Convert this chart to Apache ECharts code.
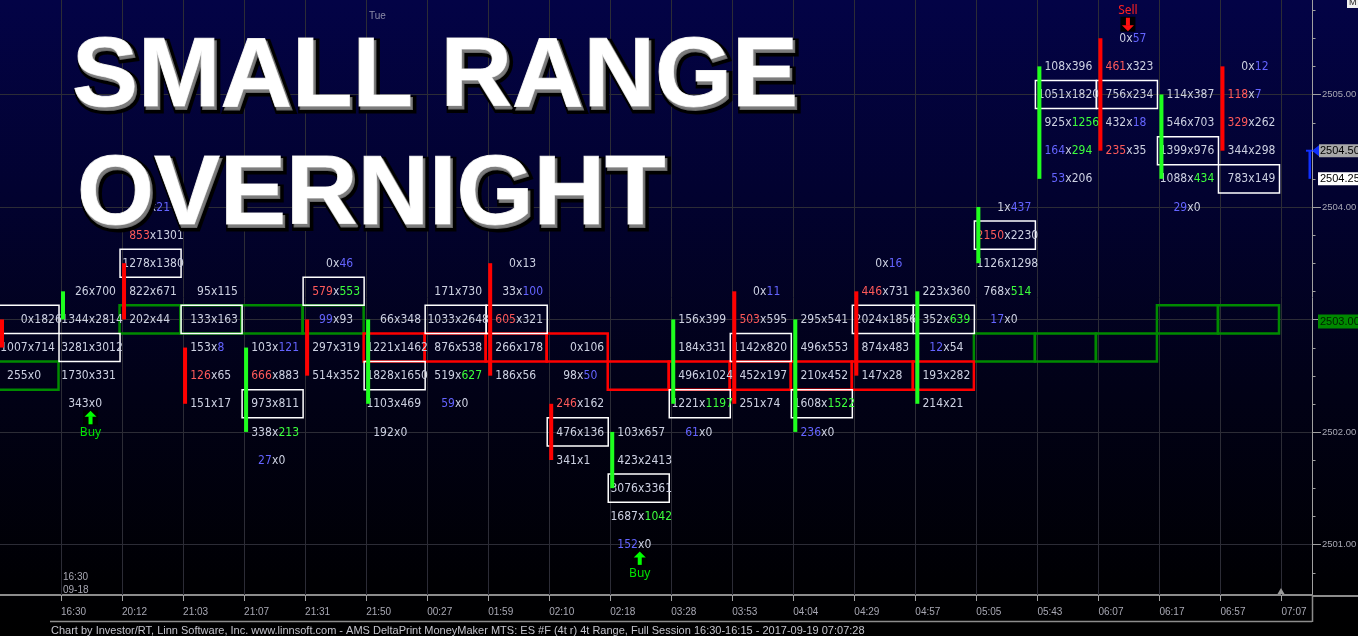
<!DOCTYPE html>
<html>
<head>
<meta charset="utf-8">
<script src="https://cdn.jsdelivr.net/npm/echarts@6/dist/echarts.min.js"></script>
<style>
html,body{margin:0;padding:0;background:#000;}
#c{width:1358px;height:636px;}
</style>
</head>
<body>
<div id="c"></div>
<script>
// ---------- DATA ----------
const timeLabels = ['16:30','20:12','21:03','21:07','21:31','21:50','00:27','01:59','02:10','02:18','03:28',
  '03:53','04:04','04:29','04:57','05:05','05:43','06:07','06:17','06:57','07:07'];

// highest price level of each column's footprint
const colTop = [2503.00, 2503.25, 2504.00, 2503.25, 2502.75, 2503.50, 2503.00, 2503.25, 2503.50, 2502.75, 2502.00,
  2503.00, 2503.25, 2503.00, 2503.50, 2503.25, 2504.00, 2505.25, 2505.50, 2505.00, 2505.25];

// bid x ask per price level, from top to bottom
const colCells = [
  ['0x1826','1007x714','255x0'],
  ['26x700','1344x2814','3281x3012','1730x331','343x0'],
  ['0x21','853x1301','1278x1380','822x671','202x44'],
  ['95x115','133x163','153x8','126x65','151x17'],
  ['103x121','666x883','973x811','338x213','27x0'],
  ['0x46','579x553','99x93','297x319','514x352'],
  ['66x348','1221x1462','1828x1650','1103x469','192x0'],
  ['171x730','1033x2648','876x538','519x627','59x0'],
  ['0x13','33x100','605x321','266x178','186x56'],
  ['0x106','98x50','246x162','476x136','341x1'],
  ['103x657','423x2413','3076x3361','1687x1042','152x0'],
  ['156x399','184x331','496x1024','1221x1197','61x0'],
  ['0x11','503x595','1142x820','452x197','251x74'],
  ['295x541','496x553','210x452','1608x1522','236x0'],
  ['0x16','446x731','2024x1856','874x483','147x28'],
  ['223x360','352x639','12x54','193x282','214x21'],
  ['1x437','2150x2230','1126x1298','768x514','17x0'],
  ['108x396','1051x1820','925x1256','164x294','53x206'],
  ['0x57','461x323','756x234','432x18','235x35'],
  ['114x387','546x703','1399x976','1088x434','29x0'],
  ['0x12','118x7','329x262','344x298','783x149']
];

// imbalance class of bid / ask: . normal, r seller, g buyer, b thin
const colFlags = [
  ['..','..','..'],
  ['..','..','..','..','..'],
  ['.b','r.','..','..','..'],
  ['..','..','.b','r.','..'],
  ['.b','r.','..','.g','b.'],
  ['.b','rg','b.','..','..'],
  ['..','..','..','..','..'],
  ['..','..','..','.g','b.'],
  ['..','.b','r.','..','..'],
  ['..','.b','r.','..','..'],
  ['..','..','..','.g','b.'],
  ['..','..','..','.g','b.'],
  ['.b','r.','..','..','..'],
  ['..','..','..','.g','b.'],
  ['.b','r.','..','..','..'],
  ['..','.g','b.','..','..'],
  ['.b','r.','..','.g','b.'],
  ['..','..','.g','bg','b.'],
  ['.b','r.','..','.b','r.'],
  ['..','..','..','.g','b.'],
  ['.b','rb','r.','..','..']
];

// point of control (highest volume level) per column
const pocPrice = [2503.00, 2502.75, 2503.50, 2503.00, 2502.25, 2503.25, 2502.50, 2503.00, 2503.00, 2502.00, 2501.50,
  2502.25, 2502.75, 2502.25, 2503.00, 2503.00, 2503.75, 2505.00, 2505.00, 2504.50, 2504.25];

// bar bodies: open / close (null = no body)
const barOpen  = [2503.00, 2503.00, 2503.50, 2502.75, 2502.00, 2503.00, 2502.25, null, 2503.50, 2502.25, 2501.50,
  2502.25, 2503.25, 2502.00, 2503.25, 2502.25, 2503.50, 2504.25, 2505.50, 2504.25, 2505.25];
const barClose = [2502.75, 2503.25, 2503.00, 2502.25, 2502.75, 2502.50, 2503.00, null, 2502.50, 2501.75, 2502.00,
  2503.00, 2502.25, 2503.00, 2502.50, 2503.25, 2504.00, 2505.25, 2504.50, 2505.00, 2504.50];

// support (green) / resistance (red) zones: [column, price]
const greenZones = [[0,2502.50],[2,2503.00],[3,2503.00],[4,2503.00],[5,2503.00],
  [16,2502.75],[17,2502.75],[18,2502.75],[19,2503.00],[20,2503.00]];
const redZones = [[6,2502.75],[7,2502.75],[8,2502.75],[9,2502.75],
  [10,2502.50],[11,2502.50],[12,2502.50],[13,2502.50],[14,2502.50],[15,2502.50]];

// signals: [column, kind]
const signals = [[1,'Buy'],[10,'Buy'],[18,'Sell']];

// axis values
const xTickValues = [1,2,3,4,5,6,7,8,9,10,11,12,13,14,15,16,17,18,19,20,21];
const yLabelValues = [2501, 2502, 2503, 2504, 2505];
const yMinorValues = [2500.75,2501.25,2501.5,2501.75,2502.25,2502.5,2502.75,2503.25,2503.5,2503.75,
  2504.25,2504.5,2504.75,2505.25,2505.5,2505.75];
const vGridValues = [1,2,3,4,5,6,7,8,9,10,11,12,13,14,15,16,17,18,19,20,21];
const hGridValues = [2501, 2502, 2503, 2504, 2505];

// right-axis price markers: [price, kind]
const priceMarkers = [[2504.50,'last'],[2504.25,'prev'],[2503.00,'zone']];

const TICK = 0.25;
const X_MAX = 21.5;
const Y_MIN = 2500.55, Y_MAX = 2505.84;

// ---------- BUILD ----------
const cellRecs = [];
colCells.forEach((rows, k) => {
  rows.forEach((s, i) => {
    const parts = s.split('x');
    cellRecs.push({col: k, price: colTop[k] - TICK * i, bid: parts[0], ask: parts[1], bf: colFlags[k][i][0], af: colFlags[k][i][1]});
  });
});
const barData = [];
barOpen.forEach((o, k) => { if (o != null) barData.push([k, o, barClose[k]]); });

const CELL_FONT = '12px "DejaVu Sans Condensed", "Noto Sans", sans-serif';
const AXIS_FONT = '"Liberation Sans", sans-serif';
const BASE = '#cdd1e2';
const flagColor = {'.': BASE, 'r': '#ff5a5a', 'g': '#3cff3c', 'b': '#6464ff'};

function renderVGrid(params, api) {
  const cs = params.coordSys;
  const x = Math.round(api.coord([api.value(0), Y_MIN])[0]) + 0.5;
  return {type: 'line', shape: {x1: x, y1: cs.y, x2: x, y2: cs.y + cs.height}, style: {stroke: '#2c2c36', lineWidth: 1}};
}
function renderHGrid(params, api) {
  const cs = params.coordSys;
  const y = Math.round(api.coord([0, api.value(1)])[1]) + 0.5;
  return {type: 'line', shape: {x1: cs.x, y1: y, x2: cs.x + cs.width, y2: y}, style: {stroke: '#2c2c36', lineWidth: 1}};
}
function renderMinorTick(params, api) {
  const cs = params.coordSys;
  const y = Math.round(api.coord([X_MAX, api.value(1)])[1]) + 0.5;
  const x = cs.x + cs.width;
  return {type: 'line', shape: {x1: x, y1: y, x2: x + 3.5, y2: y}, style: {stroke: '#a0a0a0', lineWidth: 1}};
}
function zoneRect(api, k, price, off) {
  const a = api.coord([k, price + TICK / 2]);
  const b = api.coord([k + 1, price - TICK / 2]);
  return {x: a[0] + off, y: a[1], width: b[0] - a[0], height: b[1] - a[1]};
}
function renderZone(color) {
  return function (params, api) {
    const r = zoneRect(api, api.value(0), api.value(1), -2.5);
    return {type: 'rect', shape: r, style: {fill: 'none', stroke: color, lineWidth: 2.5}};
  };
}
function renderPoc(params, api) {
  const k = params.dataIndex;
  const r = zoneRect(api, k, api.value(1), -2);
  return {type: 'rect', shape: r, style: {fill: 'none', stroke: '#ffffff', lineWidth: 1.5}};
}
function renderCell(params, api) {
  const c = cellRecs[params.dataIndex];
  const p = api.coord([c.col + 0.5, c.price]);
  const cx = p[0] + 0.5, cy = p[1] + 0.5;
  return {type: 'group', children: [
    {type: 'text', style: {text: c.bid, x: cx - 3.3, y: cy, align: 'right', verticalAlign: 'middle', fill: flagColor[c.bf], font: CELL_FONT}},
    {type: 'text', style: {text: 'x', x: cx, y: cy, align: 'center', verticalAlign: 'middle', fill: BASE, font: CELL_FONT}},
    {type: 'text', style: {text: c.ask, x: cx + 3.3, y: cy, align: 'left', verticalAlign: 'middle', fill: flagColor[c.af], font: CELL_FONT}}
  ]};
}
function renderBar(params, api) {
  const k = api.value(0), o = api.value(1), c = api.value(2);
  const a = api.coord([k, Math.max(o, c)]);
  const b = api.coord([k, Math.min(o, c)]);
  return {type: 'rect', shape: {x: a[0], y: a[1], width: 4, height: b[1] - a[1]},
    style: {fill: c > o ? '#1eff1e' : '#ff0000'}};
}
function renderSignal(params, api) {
  const k = api.value(0);
  const kind = signals[params.dataIndex][1];
  const n = colCells[k].length;
  const hi = colTop[k], lo = colTop[k] - TICK * (n - 1);
  const children = [];
  if (kind === 'Buy') {
    const p = api.coord([k + 0.5, lo]);
    const ax = p[0] - 1, ay = p[1] + 14;
    children.push({type: 'rect', shape: {x: ax - 7.5, y: ay - 7.5, width: 15, height: 15}, style: {fill: '#000'}});
    children.push({type: 'polygon', shape: {points: [[ax, ay - 7], [ax - 6, ay - 1], [ax + 6, ay - 1]]}, style: {fill: '#00ff00'}});
    children.push({type: 'rect', shape: {x: ax - 2, y: ay - 1.5, width: 4, height: 8}, style: {fill: '#00ff00'}});
    children.push({type: 'text', style: {text: 'Buy', x: ax, y: ay + 15, align: 'center', verticalAlign: 'middle', fill: '#00e600', font: '12px "Noto Sans", sans-serif'}});
  } else {
    const p = api.coord([k + 0.5, hi]);
    const ax = p[0] - 1, ay = p[1] - 14;
    children.push({type: 'rect', shape: {x: ax - 7.5, y: ay - 7.5, width: 15, height: 15}, style: {fill: '#000'}});
    children.push({type: 'polygon', shape: {points: [[ax, ay + 7], [ax - 6, ay + 1], [ax + 6, ay + 1]]}, style: {fill: '#ff1010'}});
    children.push({type: 'rect', shape: {x: ax - 2, y: ay - 6.5, width: 4, height: 8}, style: {fill: '#ff1010'}});
    children.push({type: 'text', style: {text: 'Sell', x: ax, y: ay - 14, align: 'center', verticalAlign: 'middle', fill: '#ff2020', font: '12px "Noto Sans", sans-serif'}});
  }
  return {type: 'group', children: children};
}
function renderMarker(params, api) {
  const price = api.value(1);
  const kind = priceMarkers[params.dataIndex][1];
  const p = api.coord([X_MAX, price]);
  const x = p[0], y = p[1];
  const font = '11px ' + AXIS_FONT;
  const ch = [];
  if (kind === 'last') {
    const q = api.coord([X_MAX, price - TICK]);
    ch.push({type: 'rect', shape: {x: x - 3.5, y: y, width: 2.5, height: q[1] - y}, style: {fill: '#1030ff'}});
    ch.push({type: 'rect', shape: {x: x - 6, y: y - 1, width: 6, height: 2}, style: {fill: '#1030ff'}});
    ch.push({type: 'polygon', shape: {points: [[x, y], [x + 7, y - 5.5], [x + 7, y + 5.5]]}, style: {fill: '#1030ff'}});
    ch.push({type: 'rect', shape: {x: x + 7, y: y - 6.5, width: 50, height: 13}, style: {fill: '#a8a8a8'}});
    ch.push({type: 'text', style: {text: price.toFixed(2), x: x + 8, y: y + 0.5, align: 'left', verticalAlign: 'middle', fill: '#000', font: font}});
  } else if (kind === 'prev') {
    ch.push({type: 'rect', shape: {x: x + 6, y: y - 6.5, width: 50, height: 13}, style: {fill: '#ffffff'}});
    ch.push({type: 'text', style: {text: price.toFixed(2), x: x + 8, y: y + 0.5, align: 'left', verticalAlign: 'middle', fill: '#000', font: font}});
  } else {
    ch.push({type: 'rect', shape: {x: x + 6, y: y - 5, width: 50, height: 14}, style: {fill: '#008a00'}});
    ch.push({type: 'text', style: {text: price.toFixed(2), x: x + 8, y: y + 2.5, align: 'left', verticalAlign: 'middle', fill: '#002200', font: font}});
  }
  return {type: 'group', children: ch};
}

const chart = echarts.init(document.getElementById('c'), null, {renderer: 'canvas', width: 1358, height: 636});

const titleFont = 'bold 99px "Liberation Sans", Arial, sans-serif';
function titleText(txt, x, y) {
  return [
    {type: 'text', z: 100, x: x + 3, y: y + 4, style: {text: txt, font: titleFont, fill: '#000', stroke: '#000', lineWidth: 7, verticalAlign: 'middle'}},
    {type: 'text', z: 101, x: x + 2, y: y + 2.5, style: {text: txt, font: titleFont, fill: '#7c7c7c', stroke: '#6a6a6a', lineWidth: 2, verticalAlign: 'middle'}},
    {type: 'text', z: 102, x: x, y: y, style: {text: txt, font: titleFont, fill: '#ffffff', stroke: '#d8d8d8', lineWidth: 1, verticalAlign: 'middle'}}
  ];
}

chart.setOption({
  animation: false,
  backgroundColor: {type: 'linear', x: 0, y: 0, x2: 0, y2: 1, colorStops: [
    {offset: 0, color: '#030346'}, {offset: 0.3, color: '#020230'}, {offset: 0.62, color: '#010116'},
    {offset: 0.92, color: '#000003'}, {offset: 1, color: '#000000'}]},
  grid: {left: 0, right: 46, top: 0, bottom: 41, containLabel: false, outerBoundsMode: 'none'},
  xAxis: {
    type: 'value', min: 0, max: X_MAX, position: 'bottom',
    axisLine: {show: true, onZero: false, lineStyle: {color: '#8c8c8c', width: 2}},
    axisTick: {show: true, customValues: xTickValues, length: 6, lineStyle: {color: '#a0a0a0'}},
    axisLabel: {show: true, customValues: xTickValues, formatter: v => timeLabels[Math.round(v) - 1],
      align: 'left', margin: 12, color: '#a8a8b4', fontSize: 10, fontFamily: AXIS_FONT},
    splitLine: {show: false}
  },
  yAxis: {
    type: 'value', min: Y_MIN, max: Y_MAX, position: 'right',
    axisLine: {show: true, onZero: false, lineStyle: {color: '#a0a0a0', width: 1}},
    axisTick: {show: true, customValues: yLabelValues, length: 9, lineStyle: {color: '#a0a0a0'}},
    axisLabel: {show: true, customValues: yLabelValues, formatter: v => v.toFixed(2), margin: 10,
      color: '#a8a8b4', fontSize: 9.5, fontFamily: AXIS_FONT},
    splitLine: {show: false}
  },
  series: [
    {type: 'custom', z: 1, data: vGridValues.map(v => [v, Y_MIN]), encode: {x: 0, y: 1}, renderItem: renderVGrid, silent: true},
    {type: 'custom', z: 1, data: hGridValues.map(v => [0, v]), encode: {x: 0, y: 1}, renderItem: renderHGrid, silent: true},
    {type: 'custom', z: 1, data: yMinorValues.map(v => [X_MAX, v]), encode: {x: 0, y: 1}, renderItem: renderMinorTick, silent: true, clip: false},
    {type: 'custom', z: 2, data: greenZones, encode: {x: 0, y: 1}, renderItem: renderZone('#008a00'), silent: true},
    {type: 'custom', z: 2, data: redZones, encode: {x: 0, y: 1}, renderItem: renderZone('#ff0000'), silent: true},
    {type: 'custom', z: 3, data: pocPrice.map((p, k) => [k, p]), encode: {x: 0, y: 1}, renderItem: renderPoc, silent: true},
    {type: 'custom', z: 4, data: cellRecs.map(c => [c.col, c.price]), encode: {x: 0, y: 1}, renderItem: renderCell, silent: true},
    {type: 'custom', z: 5, data: barData, encode: {x: 0, y: 1}, renderItem: renderBar, silent: true},
    {type: 'custom', z: 5, data: signals.map(s => [s[0], colTop[s[0]]]), encode: {x: 0, y: 1}, renderItem: renderSignal, silent: true},
    {type: 'custom', z: 6, data: priceMarkers.map(m => [X_MAX, m[0]]), encode: {x: 0, y: 1}, renderItem: renderMarker, silent: true, clip: false}
  ],
  graphic: [
    ...titleText('SMALL RANGE', 72, 79),
    ...titleText('OVERNIGHT', 77, 197),
    {type: 'text', z: 50, x: 369, y: 16, style: {text: 'Tue', font: '10px ' + AXIS_FONT, fill: '#8c8ca8', verticalAlign: 'middle'}},
    {type: 'text', z: 50, x: 63, y: 577, style: {text: '16:30', font: '10px ' + AXIS_FONT, fill: '#a8a8b4', verticalAlign: 'middle'}},
    {type: 'text', z: 50, x: 63, y: 590, style: {text: '09-18', font: '10px ' + AXIS_FONT, fill: '#a8a8b4', verticalAlign: 'middle'}},
    {type: 'line', z: 50, shape: {x1: 1312, y1: 596, x2: 1358, y2: 596}, style: {stroke: '#8c8c8c', lineWidth: 2}},
    {type: 'line', z: 50, shape: {x1: 50, y1: 621.5, x2: 1312, y2: 621.5}, style: {stroke: '#8c8c8c', lineWidth: 1.5}},
    {type: 'line', z: 50, shape: {x1: 1312.5, y1: 596, x2: 1312.5, y2: 622}, style: {stroke: '#8c8c8c', lineWidth: 1.5}},
    {type: 'polygon', z: 50, shape: {points: [[1281, 588], [1277.5, 594], [1284.5, 594]]}, style: {fill: '#9a9a9a'}},
    {type: 'rect', z: 50, shape: {x: 1347, y: -2, width: 12, height: 10}, style: {fill: '#f0f0f0'}},
    {type: 'text', z: 51, x: 1349, y: 3, style: {text: 'M', font: '9px ' + AXIS_FONT, fill: '#222', verticalAlign: 'middle'}},
    {type: 'text', z: 50, x: 51, y: 631, style: {text: 'Chart by Investor/RT, Linn Software, Inc. www.linnsoft.com - AMS DeltaPrint MoneyMaker MTS: ES #F (4t r) 4t Range, Full Session 16:30-16:15 - 2017-09-19 07:07:28',
      font: '11px ' + AXIS_FONT, fill: '#c4c4cc', verticalAlign: 'middle'}}
  ]
});
</script>
</body>
</html>
